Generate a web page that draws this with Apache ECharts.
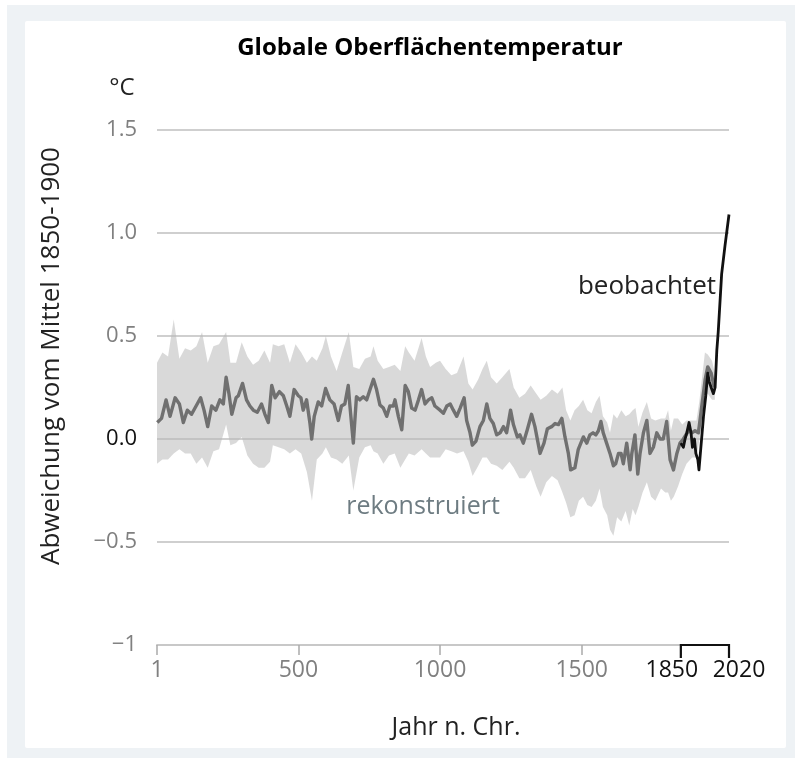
<!DOCTYPE html>
<html>
<head>
<meta charset="utf-8">
<script src="https://cdn.jsdelivr.net/npm/echarts@6/dist/echarts.min.js"></script>
<style>
html,body{margin:0;padding:0;background:#fff;}
#chart{width:795px;height:758px;}
</style>
</head>
<body>
<div id="chart"></div>
<script>
// Reconstructed mean (years, °C anomaly)
const reconYears = [2,17,33,47,65,80,94,108,123,139,155,167,180,194,209,223,235,245,255,265,280,288,303,317,329,341,355,370,382,394,406,418,433,447,459,470,485,500,509,517,529,541,547,556,570,582,596,611,626,641,652,664,676,682,694,705,717,729,741,753,765,776,788,800,812,823,835,841,853,865,877,888,900,912,924,935,947,959,971,982,1000,1012,1024,1036,1047,1059,1071,1085,1094,1106,1114,1127,1141,1153,1165,1176,1188,1200,1212,1224,1235,1249,1259,1273,1282,1294,1308,1323,1335,1353,1367,1379,1394,1406,1418,1430,1441,1453,1461,1476,1488,1506,1518,1529,1540,1550,1559,1568,1576,1588,1600,1612,1620,1630,1639,1647,1659,1671,1677,1688,1698,1706,1718,1730,1741,1753,1765,1777,1788,1800,1812,1824,1836,1847,1859,1877,1889,1900,1912,1924,1936,1945,1957,1968];
const reconMean = [0.08,0.10,0.19,0.11,0.20,0.17,0.08,0.14,0.12,0.16,0.20,0.14,0.06,0.16,0.14,0.19,0.17,0.30,0.22,0.12,0.20,0.21,0.27,0.19,0.16,0.14,0.13,0.17,0.12,0.08,0.26,0.20,0.23,0.21,0.16,0.11,0.24,0.21,0.20,0.14,0.19,0.075,0.00,0.11,0.18,0.16,0.245,0.19,0.17,0.09,0.16,0.17,0.26,0.16,-0.02,0.205,0.19,0.205,0.19,0.24,0.29,0.24,0.165,0.15,0.11,0.16,0.16,0.19,0.11,0.045,0.26,0.23,0.15,0.14,0.19,0.24,0.17,0.19,0.20,0.16,0.14,0.125,0.16,0.17,0.14,0.11,0.15,0.20,0.09,0.03,-0.03,-0.01,0.06,0.09,0.17,0.10,0.075,0.02,0.03,0.06,0.03,0.14,0.07,0.01,0.02,-0.02,0.045,0.12,0.06,-0.07,-0.02,0.05,0.06,0.075,0.07,0.10,0.01,-0.07,-0.15,-0.14,-0.05,0.01,-0.02,0.02,0.03,0.02,0.04,0.085,0.03,-0.02,-0.07,-0.13,-0.12,-0.07,-0.07,-0.12,-0.02,-0.15,-0.07,0.02,-0.17,-0.07,0.03,0.09,-0.07,-0.04,0.03,0.00,0.00,0.085,-0.10,-0.15,-0.07,-0.02,0.00,0.04,0.03,0.04,0.03,0.16,0.29,0.35,0.32,0.25];

// Reconstruction uncertainty band
const bandYears = [1,20,40,60,80,100,120,140,160,180,200,220,245,260,280,300,320,340,360,380,400,410,430,450,470,490,510,530,548,565,585,597,615,635,655,678,694,715,735,755,765,780,800,820,840,860,877,890,910,935,950,965,985,1000,1020,1040,1060,1083,1100,1115,1135,1150,1165,1180,1200,1220,1245,1260,1280,1300,1320,1340,1355,1375,1395,1415,1432,1445,1460,1475,1490,1505,1520,1535,1550,1563,1575,1590,1600,1612,1625,1640,1655,1668,1680,1690,1700,1715,1730,1745,1760,1780,1795,1805,1815,1825,1840,1855,1870,1890,1905,1915,1925,1935,1945,1960,1970];
const bandLow = [-0.12,-0.10,-0.10,-0.07,-0.05,-0.07,-0.07,-0.12,-0.09,-0.14,-0.06,-0.05,0.07,-0.03,-0.02,0.01,-0.08,-0.12,-0.14,-0.14,-0.11,-0.03,-0.04,-0.05,-0.07,-0.05,-0.07,-0.16,-0.30,-0.10,-0.07,-0.04,-0.09,-0.10,-0.12,-0.08,-0.25,-0.09,-0.04,-0.03,-0.06,-0.07,-0.12,-0.08,-0.07,-0.14,-0.10,-0.07,-0.08,-0.05,-0.07,-0.09,-0.09,-0.09,-0.05,-0.06,-0.07,-0.06,-0.11,-0.18,-0.13,-0.09,-0.09,-0.12,-0.13,-0.15,-0.11,-0.14,-0.19,-0.19,-0.15,-0.23,-0.28,-0.21,-0.18,-0.20,-0.26,-0.31,-0.38,-0.37,-0.30,-0.28,-0.32,-0.33,-0.30,-0.24,-0.33,-0.37,-0.44,-0.47,-0.38,-0.40,-0.35,-0.42,-0.34,-0.37,-0.33,-0.26,-0.21,-0.28,-0.30,-0.24,-0.26,-0.26,-0.30,-0.28,-0.23,-0.17,-0.12,-0.09,-0.09,-0.01,0.10,0.21,0.22,0.19,0.19];
const bandHigh = [0.37,0.42,0.40,0.58,0.39,0.44,0.43,0.45,0.52,0.37,0.45,0.46,0.52,0.37,0.37,0.47,0.40,0.36,0.38,0.43,0.37,0.46,0.45,0.46,0.37,0.46,0.42,0.37,0.40,0.38,0.44,0.50,0.40,0.33,0.42,0.52,0.35,0.34,0.39,0.40,0.45,0.38,0.34,0.35,0.36,0.33,0.45,0.42,0.38,0.49,0.40,0.35,0.37,0.38,0.34,0.31,0.32,0.40,0.27,0.24,0.29,0.34,0.38,0.30,0.27,0.30,0.34,0.25,0.20,0.22,0.26,0.22,0.19,0.21,0.24,0.22,0.25,0.14,0.09,0.14,0.16,0.19,0.14,0.125,0.18,0.21,0.11,0.08,0.03,0.12,0.10,0.14,0.11,0.12,0.14,0.15,0.06,0.13,0.18,0.10,0.09,0.10,0.10,0.14,0.04,0.10,0.10,0.07,0.09,0.09,0.09,0.18,0.30,0.42,0.41,0.38,0.32];

// Observed
const obsYears = [1850,1859,1865,1871,1879,1886,1891,1898,1903,1910,1914,1922,1930,1938,1945,1950,1957,1965,1971,1977,1982,1994,2006,2020];
const obsValues = [-0.02,-0.04,0.00,0.03,0.08,0.03,-0.04,0.00,-0.07,-0.10,-0.15,-0.02,0.11,0.21,0.32,0.28,0.25,0.22,0.25,0.43,0.52,0.80,0.94,1.09];

// Axis ticks
const xTicks = [1,500,1000,1500,1850,2020];
const xBracket = [1850,2020];
const yTicks = [-1,-0.5,0,0.5,1,1.5];

const FONT = '"Open Sans", "Noto Sans", sans-serif';
const chart = echarts.init(document.getElementById('chart'), null, {renderer:'canvas'});

function fmtY(v){
  if (Math.abs(v+1) < 1e-9) return '{g|\u22121}';
  let s = Math.abs(v).toFixed(1);
  if (v < 0) s = '\u2212' + s;
  if (Math.abs(v) < 1e-9) return '{b|0.0}';
  return '{g|' + s + '}';
}
function fmtX(v){
  const s = String(Math.round(v));
  if (v === xBracket[0]) return '{bl|' + s + '}';
  if (v === xBracket[1]) return '{br|' + s + '}';
  return '{g|' + s + '}';
}

const option = {
  backgroundColor:'#ffffff',
  animation:false,
  graphic:[
    {type:'rect', z:-10, silent:true, shape:{x:7,y:5,width:788,height:753}, style:{fill:'#eef2f5'}},
    {type:'rect', z:-9, silent:true, shape:{x:25,y:21,width:761,height:727,r:2}, style:{fill:'#ffffff'}},
    {type:'text', x:430, y:48, style:{text:'Globale Oberflächentemperatur', font:'bold 24px ' + FONT, fill:'#000', align:'center', verticalAlign:'middle'}},
    {type:'text', x:122, y:88, style:{text:'°C', font:'24px ' + FONT, fill:'#222', align:'center', verticalAlign:'middle'}},
    {type:'text', x:52, y:356, rotation:Math.PI/2, style:{text:'Abweichung vom Mittel 1850-1900', font:'26px ' + FONT, fill:'#222', align:'center', verticalAlign:'middle'}},
    {type:'text', x:456, y:728, style:{text:'Jahr n. Chr.', font:'25px ' + FONT, fill:'#222', align:'center', verticalAlign:'middle'}},
    {type:'text', x:716, y:287, style:{text:'beobachtet', font:'26px ' + FONT, fill:'#222', align:'right', verticalAlign:'middle'}},
    {type:'text', x:423, y:507, style:{text:'rekonstruiert', font:'25px ' + FONT, fill:'#6e7c82', align:'center', verticalAlign:'middle'}}
  ],
  grid:{left:157, right:66, top:130, bottom:113, containLabel:false},
  xAxis:{type:'value', min:1, max:2020,
      axisLine:{show:true, onZero:false, lineStyle:{color:'#c8c8c8', width:2}},
      axisTick:{show:true, customValues:xTicks, length:10, lineStyle:{color:'#aaaaaa', width:1.5}},
      axisLabel:{show:true, customValues:xTicks, margin:14, formatter:fmtX, hideOverlap:false,
        showMinLabel:true, showMaxLabel:true, rich:{
        g:{color:'#808080', fontSize:23, fontFamily:FONT},
        bl:{color:'#111', fontSize:23, fontFamily:FONT, padding:[0,18,0,0]},
        br:{color:'#111', fontSize:23, fontFamily:FONT, padding:[0,0,0,20]}}},
      splitLine:{show:false}},
  yAxis:{type:'value', min:-1, max:1.5, interval:0.5,
    axisLine:{show:false}, axisTick:{show:false},
    axisLabel:{margin:20, formatter:fmtY, rich:{
      g:{color:'#808080', fontSize:22, fontFamily:FONT},
      b:{color:'#111', fontSize:22, fontFamily:FONT}}},
    splitLine:{show:true, lineStyle:{color:'#cfcfcf', width:2}}
  },
  series:[
    {type:'custom', name:'band', silent:true, z:1, clip:true,
      renderItem:function(params, api){
        if (params.dataIndex !== 0) return null;
        const pts = [];
        for (let i=0;i<bandYears.length;i++) pts.push(api.coord([bandYears[i], bandHigh[i]]));
        for (let i=bandYears.length-1;i>=0;i--) pts.push(api.coord([bandYears[i], bandLow[i]]));
        return {type:'polygon', shape:{points:pts}, style:{fill:'rgba(185,185,185,0.55)'}};
      },
      encode:{x:0, y:[1,2]},
      data:bandYears.map((y,i)=>[y, bandLow[i], bandHigh[i]])
    },
    {type:'line', name:'rekonstruiert', z:3, symbol:'none', smooth:false,
      lineStyle:{color:'#707070', width:3.4, join:'round'},
      data:reconYears.map((y,i)=>[y, reconMean[i]])},
    {type:'line', name:'beobachtet', z:4, symbol:'none',
      lineStyle:{color:'#111111', width:2.8, join:'round'},
      data:obsYears.map((y,i)=>[y, obsValues[i]])},
    {type:'custom', name:'bracket', z:5, silent:true, clip:false,
      renderItem:function(params, api){
        if (params.dataIndex !== 0) return null;
        const a = api.coord([xBracket[0], yTicks[0]]);
        const b = api.coord([xBracket[1], yTicks[0]]);
        return {type:'polyline', shape:{points:[[a[0], a[1]+13],[a[0], a[1]],[b[0], b[1]],[b[0], b[1]+13]]},
          style:{stroke:'#111', lineWidth:2.2, fill:null}};
      },
      encode:{x:0, y:1},
      data:[[xBracket[0], yTicks[0]], [xBracket[1], yTicks[0]]]}
  ]
};
chart.setOption(option);
</script>
</body>
</html>
